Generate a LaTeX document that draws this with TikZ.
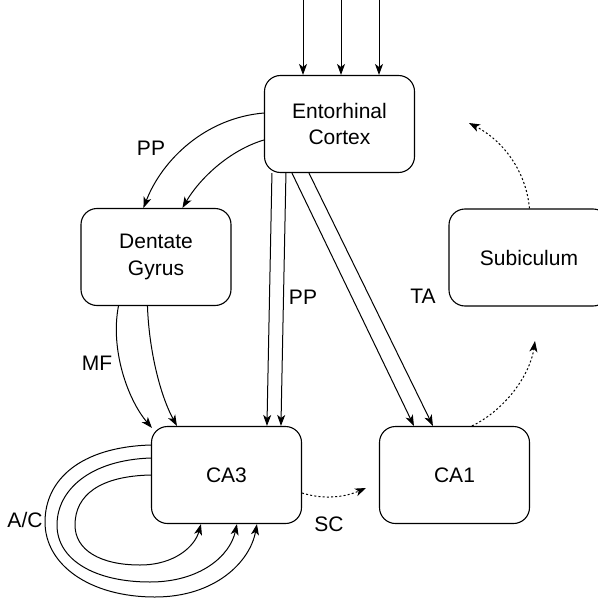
\documentclass[tikz,border=0pt]{standalone}
\usepackage{fontspec}
\setmainfont{Liberation Sans}
\usetikzlibrary{arrows.meta,calc}
\begin{document}
\begin{tikzpicture}[x=1pt,y=-1pt,
  every node/.style={font=\fontsize{21}{26.5}\selectfont},
  region/.style={draw, line width=1.1pt, rounded corners=16pt, align=center,
     minimum width=150pt, minimum height=97pt, inner sep=0pt},
  conn/.style={line width=1pt, -{Stealth[length=11pt,width=8pt,inset=3pt]}},
  dotconn/.style={conn, dash pattern=on 2pt off 2.2pt},
  lbl/.style={inner sep=0pt}]
\useasboundingbox (0,0) rectangle (597,599);
% regions
\node[region] (ec)  at (339.5,124) {Entorhinal\\Cortex};
\node[region] (dg)  at (156,257)   {Dentate\\Gyrus};
\node[region] (ca3) at (226.5,475) {CA3};
\node[region] (ca1) at (454.5,475) {CA1};
\node[region, minimum width=160pt] (sub) at (529,257.5) {Subiculum};
% inputs
\coordinate (in1) at (303,0);
\coordinate (in2) at (341,0);
\coordinate (in3) at (379,0);
\draw[conn] (in1) -- (in1 |- ec.north);
\draw[conn] (in2) -- (in2 |- ec.north);
\draw[conn] (in3) -- (in3 |- ec.north);
% EC -> DG (PP)
\draw[conn] ($(ec.west)+(0,-11)$) .. controls (205,118) and (162,160) .. ($(dg.north west)+(63,0)$);
\draw[conn] ($(ec.west)+(0,16)$) .. controls (230,150) and (200,178) .. ($(dg.north west)+(102,0)$);
\node[lbl] (pp1) at (151,148) {PP};
% EC -> CA3 (PP)
\draw[conn] ($(ec.south west)+(8,0)$) -- ($(ca3.north west)+(116,0)$);
\draw[conn] ($(ec.south west)+(22,0)$) -- ($(ca3.north west)+(130,0)$);
\node[lbl] (pp2) at (303,297) {PP};
% EC -> CA1 (TA)
\draw[conn] ($(ec.south west)+(28,0)$) -- ($(ca1.north west)+(35,0)$);
\draw[conn] ($(ec.south west)+(45,0)$) -- ($(ca1.north west)+(54,0)$);
\node[lbl] (ta) at (423,296) {TA};
% DG -> CA3 (MF)
\draw[conn] ($(dg.south west)+(38,0)$) .. controls (110,350) and (128,400) .. ($(ca3.north west)+(1,2)$);
\draw[conn] ($(dg.south west)+(67,0)$) .. controls (149,350) and (160,395) .. ($(ca3.north west)+(26,0)$);
\node[lbl] (mf) at (97,363) {MF};
% CA3 recurrent (A/C)
\draw[conn] ($(ca3.west)+(0,-30)$) .. controls (80,447) and (45,480) .. (45,522)
   .. controls (45,565) and (90,597) .. (155,597)
   .. controls (215,597) and (250,562) .. ($(ca3.south west)+(106,0)$);
\draw[conn] ($(ca3.west)+(0,-17)$) .. controls (90,460) and (57,490) .. (57,525)
   .. controls (57,560) and (95,582) .. (150,582)
   .. controls (200,582) and (230,556) .. ($(ca3.south west)+(86,0)$);
\draw[conn] ($(ca3.west)+(0,0)$) .. controls (100,476) and (75,495) .. (75,525)
   .. controls (75,550) and (100,565) .. (140,565)
   .. controls (175,565) and (195,546) .. ($(ca3.south west)+(50,0)$);
\node[lbl] (ac) at (25,520) {A/C};
% CA3 -> CA1 (SC)
\coordinate (scend) at (366,488);
\draw[dotconn] ($(ca3.east)+(0,18)$) .. controls (325,500) and (345,497) .. (scend);
\node[lbl] (sc) at (329,524) {SC};
% CA1 -> Subiculum
\coordinate (subin) at (535,341);
\draw[dotconn] ($(ca1.north west)+(93,0)$) .. controls (505,410) and (530,375) .. (subin);
% Subiculum -> EC
\coordinate (ecin) at (469,123);
\draw[dotconn] ($(sub.north west)+(81,0)$) .. controls (526,170) and (502,140) .. (ecin);
\end{tikzpicture}
\end{document}
